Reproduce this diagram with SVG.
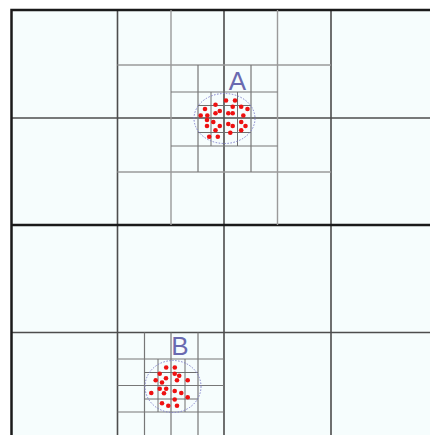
<svg xmlns="http://www.w3.org/2000/svg" width="430" height="435" viewBox="0 0 430 435">
  <style>
    .bg { fill: #f6fdfd; stroke: none; }
    .thick { stroke: #1a1a1a; stroke-width: 2.5; fill: none; }
    .main { stroke: #4d4d4d; stroke-width: 1.6; fill: none; }
    .l2 { stroke: #9a9a9a; stroke-width: 1.4; fill: none; }
    .l3 { stroke: #777777; stroke-width: 1.2; fill: none; }
    .l4 { stroke: #6e6e6e; stroke-width: 1; fill: none; }
    .ring { stroke: #8080cc; stroke-width: 1; stroke-dasharray: 1.5 1.5; fill: none; }
    .lbl { font-family: "Liberation Sans", Arial, sans-serif; font-size: 26px; fill: #6a6ab0; text-anchor: middle; }
    .pt { fill: #ee1111; }
  </style>
  <rect class="bg" x="11" y="10" width="419" height="425"/>

  <g id="grid">
    <path class="main" d="M117.5,10V435 M224,10V435 M331,10V435 M11,118H430 M11,332.5H430"/>
    <path class="thick" d="M11,225H430 M11.5,435V10H430"/>
  </g>

  <g id="region-A">
    <path class="l2" d="M171,10V225 M277.5,10V225 M117.5,65H331 M117.5,172H331"/>
    <path class="l3" d="M198,65V172 M251,65V172 M171,92H277.5 M171,146H277.5"/>
    <path class="l4" d="M211,92V146 M237.5,92V146 M198,105.5H251 M198,132.5H251"/>
    <ellipse class="ring" cx="224.5" cy="118.5" rx="30.5" ry="25"/>
    <text class="lbl" x="237.5" y="90">A</text>
    <g class="pt">
      <circle cx="226" cy="100.5" r="2.3"/><circle cx="235" cy="100.5" r="2.3"/>
      <circle cx="215.5" cy="104.7" r="2.3"/><circle cx="205" cy="109" r="2.3"/>
      <circle cx="232.7" cy="106.7" r="2.3"/><circle cx="241.2" cy="106.7" r="2.3"/>
      <circle cx="247.5" cy="109" r="2.3"/><circle cx="219.8" cy="111" r="2.3"/>
      <circle cx="215.5" cy="113.3" r="2.3"/><circle cx="228.3" cy="113.3" r="2.3"/>
      <circle cx="232.7" cy="113.3" r="2.3"/><circle cx="200.7" cy="115.5" r="2.3"/>
      <circle cx="207.3" cy="115.5" r="2.3"/><circle cx="243.3" cy="115.5" r="2.3"/>
      <circle cx="207" cy="120" r="2.3"/><circle cx="213.3" cy="122" r="2.3"/>
      <circle cx="241.2" cy="122" r="2.3"/><circle cx="228.3" cy="124" r="2.3"/>
      <circle cx="207" cy="126" r="2.3"/><circle cx="219.8" cy="126" r="2.3"/>
      <circle cx="232.7" cy="126" r="2.3"/><circle cx="245.5" cy="126" r="2.3"/>
      <circle cx="215.5" cy="130.2" r="2.3"/><circle cx="241.2" cy="130.2" r="2.3"/>
      <circle cx="230.3" cy="132.7" r="2.3"/><circle cx="209.2" cy="136.7" r="2.3"/>
      <circle cx="217.8" cy="136.7" r="2.3"/>
    </g>
  </g>

  <g id="region-B">
    <path class="l3" d="M144.5,332.5V435 M171,332.5V435 M198,332.5V435 M117.5,359H224 M117.5,385.5H224 M117.5,412H224"/>
    <path class="l4" d="M158,359V412 M185,359V412 M144.5,372.5H198 M144.5,399H198"/>
    <ellipse class="ring" cx="173" cy="386.5" rx="28" ry="26"/>
    <text class="lbl" x="180" y="355">B</text>
    <g class="pt">
      <circle cx="166.2" cy="367.5" r="2.3"/><circle cx="174.8" cy="367.5" r="2.3"/>
      <circle cx="159.7" cy="373.8" r="2.3"/><circle cx="174.7" cy="373.8" r="2.3"/>
      <circle cx="179.2" cy="375.8" r="2.3"/><circle cx="166" cy="378.2" r="2.3"/>
      <circle cx="155.7" cy="380.3" r="2.3"/><circle cx="177" cy="380.3" r="2.3"/>
      <circle cx="187.7" cy="380.3" r="2.3"/><circle cx="162" cy="382.5" r="2.3"/>
      <circle cx="159.7" cy="388.8" r="2.3"/><circle cx="166.2" cy="388.8" r="2.3"/>
      <circle cx="174.7" cy="391" r="2.3"/><circle cx="151.3" cy="393" r="2.3"/>
      <circle cx="164" cy="393.2" r="2.3"/><circle cx="181.3" cy="393" r="2.3"/>
      <circle cx="187.7" cy="397.3" r="2.3"/><circle cx="174.7" cy="399.5" r="2.3"/>
      <circle cx="162" cy="403.3" r="2.3"/><circle cx="168.3" cy="405.8" r="2.3"/>
      <circle cx="177" cy="405.8" r="2.3"/>
    </g>
  </g>
</svg>
